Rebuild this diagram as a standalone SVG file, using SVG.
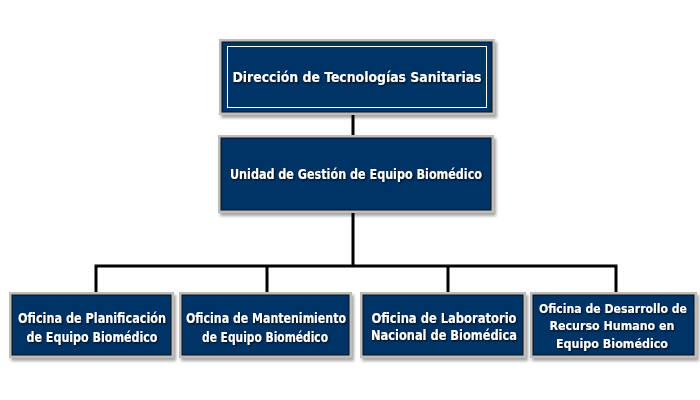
<svg xmlns="http://www.w3.org/2000/svg" width="700" height="400" viewBox="0 0 700 400">
<defs>
<filter id="boxsh" x="-10%" y="-10%" width="125%" height="130%">
<feDropShadow dx="2" dy="3" stdDeviation="1.5" flood-color="#000" flood-opacity="0.35"/>
</filter>
<filter id="txtsh" x="-10%" y="-40%" width="120%" height="180%">
<feDropShadow dx="1" dy="1" stdDeviation="1" flood-color="#000" flood-opacity="0.9"/>
</filter>
</defs>
<style>
.box{fill:#003366;stroke:#111;stroke-width:1}
.bevel{fill:#bdbdbd}
.inner{fill:none;stroke:#fff;stroke-width:1}
.t{font-family:"DejaVu Sans Condensed","DejaVu Sans",sans-serif;font-weight:bold;font-size:14px;fill:#fff;text-anchor:middle;dominant-baseline:central}
.s{font-size:13px}
.tx{filter:url(#txtsh)}
.c{stroke:#000;stroke-width:3;fill:none}
</style>
<rect width="700" height="400" fill="#fff"/>
<g id="connectors">
<path class="c" d="M353,112 V138"/>
<path class="c" d="M353,210 V266"/>
<path class="c" d="M96,295 V266 H616 V295"/>
<path class="c" d="M267,266 V295"/>
<path class="c" d="M448,266 V295"/>
</g>
<g id="n1">
<rect class="bevel" x="219" y="39" width="276" height="76" filter="url(#boxsh)"/>
<rect class="box" x="222" y="42" width="270" height="70"/>
<rect class="inner" x="227.5" y="46.5" width="259" height="61"/>
<g class="tx"><text class="t" x="357" y="77" textLength="249" lengthAdjust="spacingAndGlyphs">Dirección de Tecnologías Sanitarias</text></g>
</g>
<g id="n2">
<rect class="bevel" x="218" y="135" width="276" height="78" filter="url(#boxsh)"/>
<rect class="box" x="221" y="138" width="270" height="72"/>
<g class="tx"><text class="t" x="356" y="174" textLength="252" lengthAdjust="spacingAndGlyphs">Unidad de Gestión de Equipo Biomédico</text></g>
</g>
<g id="n3">
<rect class="bevel" x="9" y="292" width="165" height="66" filter="url(#boxsh)"/>
<rect class="box" x="12" y="295" width="159" height="60"/>
<g class="tx">
<text class="t" x="92" y="318" textLength="148" lengthAdjust="spacingAndGlyphs">Oficina de Planificación</text>
<text class="t" x="92" y="337" textLength="131" lengthAdjust="spacingAndGlyphs">de Equipo Biomédico</text>
</g>
</g>
<g id="n4">
<rect class="bevel" x="179" y="292" width="173" height="66" filter="url(#boxsh)"/>
<rect class="box" x="182" y="295" width="167" height="60"/>
<g class="tx">
<text class="t" x="266" y="318" textLength="160" lengthAdjust="spacingAndGlyphs">Oficina de Mantenimiento</text>
<text class="t" x="265" y="337" textLength="126" lengthAdjust="spacingAndGlyphs">de Equipo Biomédico</text>
</g>
</g>
<g id="n5">
<rect class="bevel" x="360" y="292" width="166" height="66" filter="url(#boxsh)"/>
<rect class="box" x="363" y="295" width="160" height="60"/>
<g class="tx">
<text class="t" x="444" y="318" textLength="145" lengthAdjust="spacingAndGlyphs">Oficina de Laboratorio</text>
<text class="t" x="444" y="335" textLength="146" lengthAdjust="spacingAndGlyphs">Nacional de Biomédica</text>
</g>
</g>
<g id="n6">
<rect class="bevel" x="530" y="292" width="167" height="66" filter="url(#boxsh)"/>
<rect class="box" x="533" y="295" width="161" height="60"/>
<g class="tx">
<text class="t s" x="613" y="308" textLength="148" lengthAdjust="spacingAndGlyphs">Oficina de Desarrollo de</text>
<text class="t s" x="612" y="325.5" textLength="125" lengthAdjust="spacingAndGlyphs">Recurso Humano en</text>
<text class="t s" x="612" y="343" textLength="112" lengthAdjust="spacingAndGlyphs">Equipo Biomédico</text>
</g>
</g>
</svg>
